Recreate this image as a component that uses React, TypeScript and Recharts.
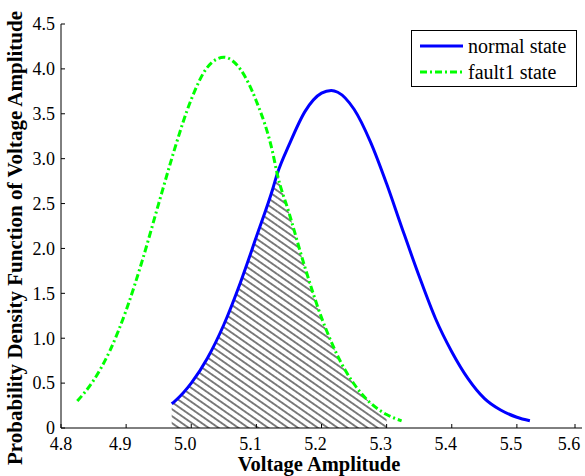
import React from 'react';
import { ComposedChart, Line, Area, XAxis, YAxis, Legend } from 'recharts';

const FONT = '"Liberation Serif", "Times New Roman", serif';

// voltage grid (x) shared by both curves
const voltage = [
  4.825, 4.85, 4.875, 4.9, 4.925, 4.95, 4.97, 4.975, 5.0, 5.025, 5.05, 5.075, 5.1, 5.125, 5.132, 5.15,
  5.175, 5.2, 5.215, 5.225, 5.25, 5.275, 5.3, 5.323, 5.35, 5.375, 5.4, 5.425, 5.45, 5.475, 5.5, 5.52,
];
const normalState = [
  null, null, null, null, null, null, 0.27, 0.3, 0.5, 0.78, 1.15, 1.61, 2.13, 2.66, 2.83, 3.15,
  3.53, 3.73, 3.76, 3.74, 3.55, 3.19, 2.72, 2.24, 1.69, 1.22, 0.85, 0.55, 0.33, 0.2, 0.12, 0.08,
];
const fault1State = [
  0.3, 0.53, 0.86, 1.31, 1.87, 2.5, 3.0, 3.12, 3.66, 4.02, 4.13, 4.0, 3.64, 3.07, 2.83, 2.4,
  1.78, 1.23, 0.96, 0.8, 0.49, 0.28, 0.15, 0.08, null, null, null, null, null, null, null, null,
];

const xTicks = [4.8, 4.9, 5.0, 5.1, 5.2, 5.3, 5.4, 5.5, 5.6];
const yTicks = [0, 0.5, 1, 1.5, 2, 2.5, 3, 3.5, 4, 4.5];

// overlap (hatched) region
const hatchFrom = 4.97;
const crossAt = 5.132;
const hatchTo = 5.3;

const legendItems = [
  { label: 'normal state', color: '#0000ff', dash: undefined as string | undefined },
  { label: 'fault1 state', color: '#00ff00', dash: '7 3 2 3' },
];

const data = voltage.map((v, i) => ({
  v,
  normal: normalState[i],
  fault: fault1State[i],
  hatchL: v >= hatchFrom && v <= crossAt ? normalState[i] : null,
  hatchR: v >= crossAt && v <= hatchTo ? fault1State[i] : null,
}));

function BottomTick(props: any) {
  const { x, y, payload } = props;
  const v = payload.value as number;
  return (
    <g>
      <line x1={x} y1={y} x2={x} y2={y - 4} stroke="#000" />
      <text x={x + (v > 4.85 ? -6 : 0)} y={y + 22} textAnchor="middle" fontSize={18} fontFamily={FONT} fill="#000">
        {v.toFixed(1)}
      </text>
    </g>
  );
}

function LeftTick(props: any) {
  const { x, y, payload } = props;
  const v = payload.value as number;
  return (
    <g>
      <line x1={x} y1={y} x2={x + 4} y2={y} stroke="#000" />
      <text x={x - 6} y={y} dy="0.35em" textAnchor="end" fontSize={18} fontFamily={FONT} fill="#000">
        {v === 0 ? '0' : v.toFixed(1)}
      </text>
    </g>
  );
}

function TopTick(props: any) {
  const { x, y } = props;
  return <line x1={x} y1={y} x2={x} y2={y + 4} stroke="#000" />;
}

function RightTick(props: any) {
  const { x, y } = props;
  return <line x1={x} y1={y} x2={x - 4} y2={y} stroke="#000" />;
}

const XTitle = () => (
  <text x={319} y={471} textAnchor="middle" fontSize={20.5} fontWeight="bold" fontFamily={FONT} fill="#000">
    Voltage Amplitude
  </text>
);

const YTitle = () => (
  <text transform="translate(22,238) rotate(-90)" textAnchor="middle" fontSize={21} fontWeight="bold" fontFamily={FONT} fill="#000">
    Probability Density Function of Voltage Amplitude
  </text>
);

function LegendBox() {
  return (
    <div
      style={{
        width: 166,
        height: 57,
        boxSizing: 'border-box',
        border: '1px solid #000',
        background: '#fff',
        padding: '2px 0 0 8px',
        fontFamily: FONT,
        fontSize: 20,
      }}
    >
      {legendItems.map((it) => (
        <div key={it.label} style={{ display: 'flex', alignItems: 'center', height: 26 }}>
          <svg width={43} height={6} style={{ marginRight: 5 }}>
            <line x1={0} y1={3} x2={43} y2={3} stroke={it.color} strokeWidth={3} strokeDasharray={it.dash} />
          </svg>
          <span>{it.label}</span>
        </div>
      ))}
    </div>
  );
}

export default function App() {
  return (
    <div style={{ position: 'absolute', left: 0, top: 0, width: 585, height: 476, background: '#fff' }}>
      <ComposedChart width={585} height={476} data={data} margin={{ top: 24, right: 3, bottom: 0, left: 0 }}>
        <defs>
          <pattern id="hatch" patternUnits="userSpaceOnUse" width={10} height={5.7} patternTransform="rotate(35)">
            <line x1={0} y1={2.85} x2={10} y2={2.85} stroke="#000" strokeWidth={1} />
          </pattern>
        </defs>
        <XAxis
          dataKey="v"
          type="number"
          domain={[4.8, 5.6]}
          ticks={xTicks}
          height={48}
          tickSize={0}
          tickMargin={0}
          tickLine={false}
          tick={(p: any) => <BottomTick {...p} />}
          axisLine={{ stroke: '#000' }}
          label={<XTitle />}
        />
        <XAxis
          xAxisId="top"
          orientation="top"
          type="number"
          domain={[4.8, 5.6]}
          allowDataOverflow
          ticks={xTicks}
          height={0}
          tickSize={0}
          tickMargin={0}
          tickLine={false}
          tick={(p: any) => <TopTick {...p} />}
          axisLine={{ stroke: '#000' }}
        />
        <YAxis
          type="number"
          domain={[0, 4.5]}
          ticks={yTicks}
          width={61}
          tickSize={0}
          tickMargin={0}
          tickLine={false}
          tick={(p: any) => <LeftTick {...p} />}
          axisLine={{ stroke: '#000' }}
          label={<YTitle />}
        />
        <YAxis
          yAxisId="right"
          orientation="right"
          type="number"
          domain={[0, 4.5]}
          allowDataOverflow
          ticks={yTicks}
          width={0}
          tickSize={0}
          tickMargin={0}
          tickLine={false}
          tick={(p: any) => <RightTick {...p} />}
          axisLine={{ stroke: '#000' }}
        />
        <Legend
          layout="vertical"
          align="center"
          verticalAlign="middle"
          content={<LegendBox />}
          wrapperStyle={{ left: 411, top: 30, width: 166, height: 57 }}
        />
        <Area dataKey="hatchL" type="monotone" stroke="none" fill="url(#hatch)" fillOpacity={1} isAnimationActive={false} activeDot={false} />
        <Area dataKey="hatchR" type="monotone" stroke="none" fill="url(#hatch)" fillOpacity={1} isAnimationActive={false} activeDot={false} />
        <Line dataKey="normal" type="monotone" stroke="#0000ff" strokeWidth={3} dot={false} activeDot={false} isAnimationActive={false} />
        <Line dataKey="fault" type="monotone" stroke="#00ff00" strokeWidth={3} strokeDasharray="7 3 2 3" dot={false} activeDot={false} isAnimationActive={false} />
      </ComposedChart>
    </div>
  );
}
